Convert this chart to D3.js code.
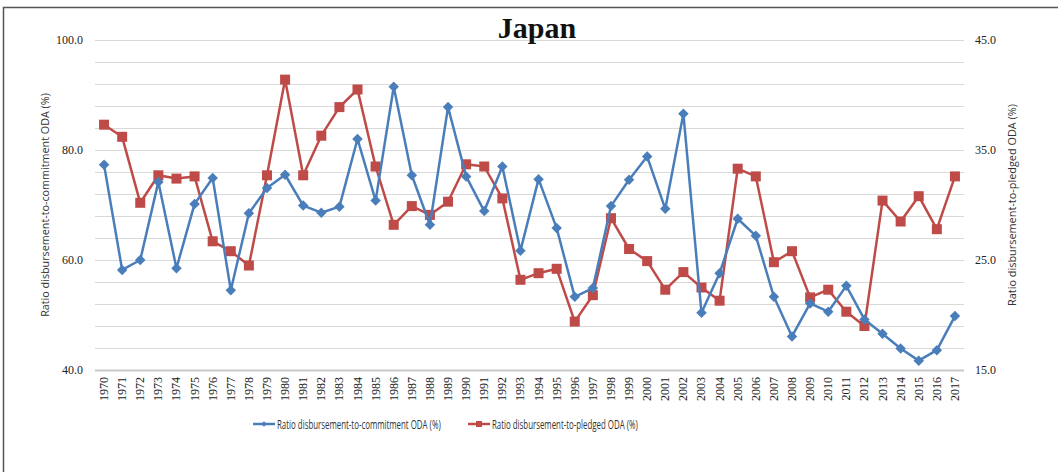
<!DOCTYPE html>
<html>
<head>
<meta charset="utf-8">
<script src="https://cdn.jsdelivr.net/npm/d3@7"></script>
<style>
  body { margin: 0; background: #fff; }
  .grid line { stroke: #d9d9d9; stroke-width: 1; }
  .tick-label { font-family: "Liberation Serif", "DejaVu Serif", serif; font-size: 12px; fill: #222; }
  .axis-title { font-family: "Open Sans", sans-serif; font-size: 11px; fill: #333; }
  .legend text { font-family: "Open Sans", sans-serif; font-size: 12.5px; fill: #333; }
</style>
</head>
<body>
<div id="chart"></div>
<script>
const years = d3.range(1970, 2018).map(String)

const commitment = [77.3, 58.2, 60.0, 74.2, 58.5, 70.2, 74.9, 54.5, 68.5, 73.1,
  75.5, 69.9, 68.6, 69.7, 82.0, 70.8, 91.5, 75.4, 66.4, 87.8,
  75.2, 68.9, 77.0, 61.7, 74.7, 65.8, 53.3, 54.9, 69.8, 74.6,
  78.8, 69.3, 86.6, 50.4, 57.6, 67.5, 64.4, 53.3, 46.1, 52.1,
  50.6, 55.3, 49.2, 46.6, 43.9, 41.7, 43.6, 49.8]

const pledged = [37.3, 36.2, 30.2, 32.7, 32.4, 32.6, 26.7, 25.8, 24.5, 32.7,
  41.4, 32.7, 36.3, 38.9, 40.5, 33.5, 28.2, 29.9, 29.1, 30.3,
  33.7, 33.5, 30.6, 23.2, 23.8, 24.2, 19.4, 21.8, 28.8, 26.0,
  24.9, 22.3, 23.9, 22.5, 21.3, 33.3, 32.6, 24.8, 25.8, 21.6,
  22.3, 20.3, 19.0, 30.4, 28.5, 30.8, 27.8, 32.6]

const leftTicks = [40, 60, 80, 100]
const rightTicks = [15, 25, 35, 45]
const leftGrid = d3.range(40, 101, 4)

const width = 1058, height = 472
const plot = { left: 95, right: 964, top: 40, bottom: 370 }
const blue = "#4a7ebb", red = "#be4b48"

const svg = d3.select("#chart").append("svg")
    .attr("width", width)
    .attr("height", height)

// frame
svg.append("rect")
    .attr("x", 3.5).attr("y", 7.5)
    .attr("width", width + 10).attr("height", height + 10)
    .attr("fill", "none").attr("stroke", "#555").attr("stroke-width", 1.5)

const x = d3.scaleBand().domain(years).range([plot.left, plot.right])
const yL = d3.scaleLinear().domain([40, 100]).range([plot.bottom, plot.top])
const yR = d3.scaleLinear().domain([15, 45]).range([plot.bottom, plot.top])

// gridlines
svg.append("g").attr("class", "grid")
  .selectAll("line").data(leftGrid).enter()
  .append("line")
    .attr("x1", plot.left).attr("x2", plot.right)
    .attr("y1", d => Math.round(yL(d)) + 0.5)
    .attr("y2", d => Math.round(yL(d)) + 0.5)

svg.append("line")
    .attr("x1", plot.left).attr("x2", plot.right)
    .attr("y1", plot.bottom + 0.5).attr("y2", plot.bottom + 0.5)
    .attr("stroke", "#c8c8c8").attr("stroke-width", 2)

// left axis labels
svg.append("g").selectAll("text").data(leftTicks).enter()
  .append("text").attr("class", "tick-label")
    .attr("x", 83).attr("y", d => yL(d) + 4)
    .attr("text-anchor", "end")
    .text(d => d.toFixed(1))

// right axis labels
svg.append("g").selectAll("text").data(rightTicks).enter()
  .append("text").attr("class", "tick-label")
    .attr("x", 975).attr("y", d => yR(d) + 4)
    .text(d => d.toFixed(1))

// year labels
svg.append("g").selectAll("text").data(years).enter()
  .append("text").attr("class", "tick-label")
    .attr("transform", d => `translate(${x(d) + x.bandwidth() / 2 + 4},${plot.bottom + 7}) rotate(-90)`)
    .attr("text-anchor", "end")
    .text(d => d)

// squeeze a text to a given width (narrow font is not available)
function squeeze(sel, w) {
  const natural = sel.node().getComputedTextLength()
  return natural > 0 ? w / natural : 1
}

// axis titles
const lt = svg.append("text").attr("class", "axis-title")
    .attr("text-anchor", "middle")
    .text("Ratio disbursement-to-commitment ODA (%)")
lt.attr("transform", `translate(49,205) rotate(-90) scale(${squeeze(lt, 224)},1)`)

const rt = svg.append("text").attr("class", "axis-title")
    .attr("text-anchor", "middle")
    .text("Ratio disbursement-to-pledged ODA (%)")
rt.attr("transform", `translate(1016,205) rotate(-90) scale(${squeeze(rt, 202)},1)`)

// title
svg.append("text")
    .attr("x", 537).attr("y", 38)
    .attr("text-anchor", "middle")
    .attr("font-family", "'Liberation Serif', 'DejaVu Serif', serif")
    .attr("font-weight", "bold")
    .attr("font-size", 30)
    .attr("fill", "#111")
    .text("Japan")

const cx = d => x(d) + x.bandwidth() / 2

// pledged series (red, right axis)
const redLine = d3.line().x((d, i) => cx(years[i])).y(d => yR(d))
svg.append("path").datum(pledged)
    .attr("d", redLine)
    .attr("fill", "none").attr("stroke", red).attr("stroke-width", 2.5)
    .attr("stroke-linejoin", "round")

svg.append("g").selectAll("rect").data(pledged).enter()
  .append("rect")
    .attr("x", (d, i) => cx(years[i]) - 5)
    .attr("y", d => yR(d) - 5)
    .attr("width", 10).attr("height", 10)
    .attr("fill", red)

// commitment series (blue, left axis)
const blueLine = d3.line().x((d, i) => cx(years[i])).y(d => yL(d))
svg.append("path").datum(commitment)
    .attr("d", blueLine)
    .attr("fill", "none").attr("stroke", blue).attr("stroke-width", 2.5)
    .attr("stroke-linejoin", "round")

const diamond = d3.symbol().type(d3.symbolDiamond2).size(70)
svg.append("g").selectAll("path").data(commitment).enter()
  .append("path")
    .attr("d", diamond)
    .attr("transform", (d, i) => `translate(${cx(years[i])},${yL(d)})`)
    .attr("fill", blue)

// legend
const legend = svg.append("g").attr("class", "legend")
const items = [
  { label: "Ratio disbursement-to-commitment ODA (%)", color: blue, shape: "diamond", x: 253, len: 164 },
  { label: "Ratio disbursement-to-pledged ODA (%)", color: red, shape: "square", x: 468, len: 146 }
]
items.forEach(it => {
  const g = legend.append("g").attr("transform", `translate(${it.x},424)`)
  g.append("line").attr("x1", 0).attr("x2", 22)
      .attr("stroke", it.color).attr("stroke-width", 2.5)
  if (it.shape === "diamond") {
    g.append("path").attr("d", d3.symbol().type(d3.symbolDiamond2).size(20)())
        .attr("transform", "translate(11,0)").attr("fill", it.color)
  } else {
    g.append("rect").attr("x", 8).attr("y", -3).attr("width", 6).attr("height", 6)
        .attr("fill", it.color)
  }
  const t = g.append("text").text(it.label)
  t.attr("transform", `translate(24,4.5) scale(${squeeze(t, it.len)},1)`)
})
</script>
</body>
</html>
